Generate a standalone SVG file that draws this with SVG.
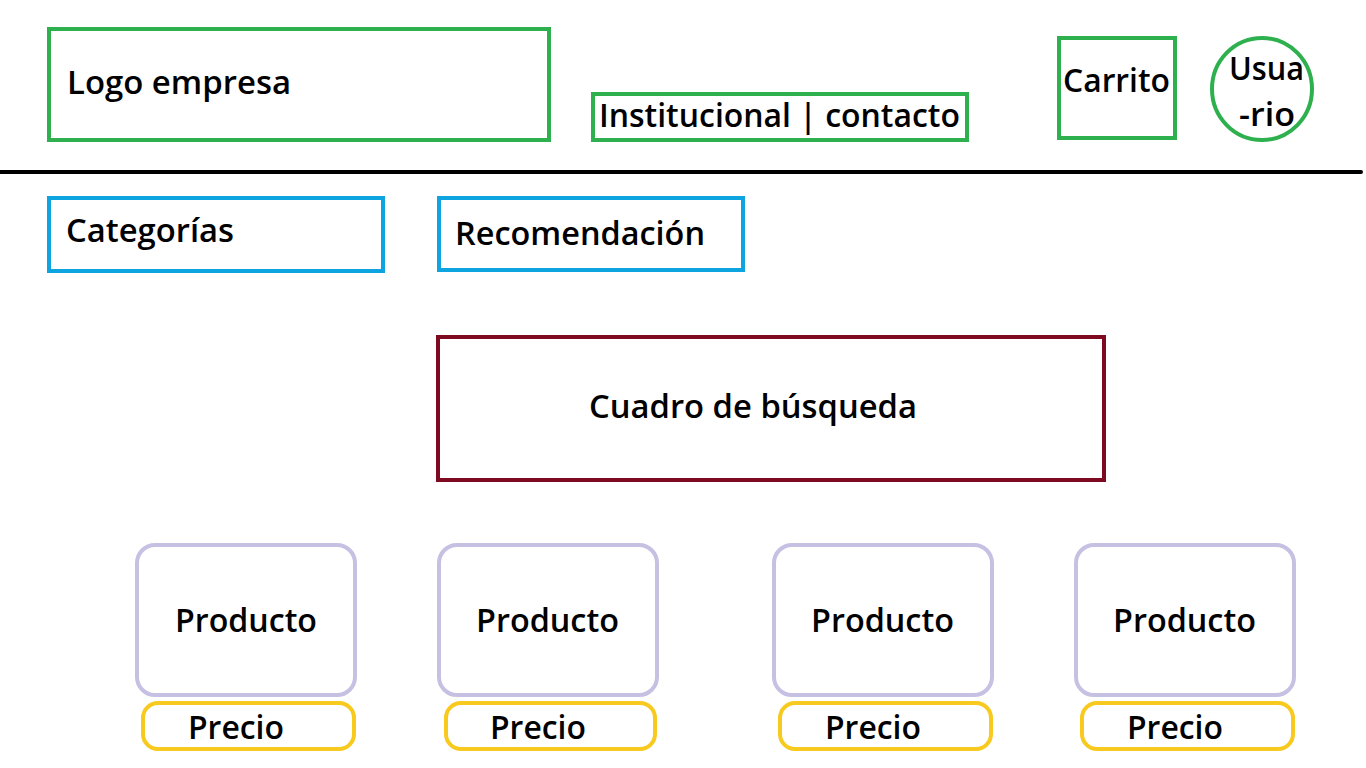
<svg xmlns="http://www.w3.org/2000/svg" width="1366" height="768" viewBox="0 0 1366 768">
<style>
text{font-family:"Open Sans","Noto Sans","Liberation Sans",sans-serif;font-weight:600;fill:#000;font-size:33px}
.g{fill:none;stroke:#2eb04f;stroke-width:4}
.b{fill:none;stroke:#0ea4df;stroke-width:4}
.r{fill:none;stroke:#7d0a20;stroke-width:4}
.p{fill:none;stroke:#c6c1e3;stroke-width:4}
.y{fill:none;stroke:#f8c91f;stroke-width:4}
</style>
<rect width="1366" height="768" fill="#fff"/>
<g id="logo"><rect class="g" x="49" y="29" width="500" height="111"/><text x="67" y="94" textLength="224" lengthAdjust="spacingAndGlyphs">Logo empresa</text></g>
<g id="institucional"><rect class="g" x="593" y="94" width="374" height="46"/><text x="599" y="127" textLength="361" lengthAdjust="spacingAndGlyphs">Institucional | contacto</text></g>
<g id="carrito"><rect class="g" x="1059" y="38" width="116" height="100"/><text x="1063" y="92" textLength="107" lengthAdjust="spacingAndGlyphs">Carrito</text></g>
<g id="usuario"><ellipse class="g" cx="1262" cy="89" rx="50" ry="51"/><text x="1229" y="80" textLength="75" lengthAdjust="spacingAndGlyphs">Usua</text><text x="1239" y="126" textLength="56" lengthAdjust="spacingAndGlyphs">-rio</text></g>
<g id="connectors"><line x1="0" y1="172" x2="1361" y2="172" stroke="#000" stroke-width="4" stroke-linecap="round"/></g>
<g id="categorias"><rect class="b" x="49" y="198" width="334" height="73"/><text x="66" y="242" textLength="168" lengthAdjust="spacingAndGlyphs">Categorías</text></g>
<g id="recomendacion"><rect class="b" x="439" y="198" width="304" height="72"/><text x="455" y="245" textLength="250" lengthAdjust="spacingAndGlyphs">Recomendación</text></g>
<g id="busqueda"><rect class="r" x="438" y="337" width="666" height="143"/><text x="589" y="418" textLength="328" lengthAdjust="spacingAndGlyphs">Cuadro de búsqueda</text></g>
<g id="producto1"><rect class="p" x="137" y="545" width="218" height="150" rx="18"/><text x="175" y="632" textLength="142" lengthAdjust="spacingAndGlyphs">Producto</text></g>
<g id="precio1"><rect class="y" x="143" y="703" width="211" height="46" rx="15"/><text x="188" y="739" textLength="96" lengthAdjust="spacingAndGlyphs">Precio</text></g>
<g id="producto2"><rect class="p" x="439" y="545" width="218" height="150" rx="18"/><text x="476" y="632" textLength="143" lengthAdjust="spacingAndGlyphs">Producto</text></g>
<g id="precio2"><rect class="y" x="446" y="703" width="209" height="46" rx="15"/><text x="490" y="739" textLength="96" lengthAdjust="spacingAndGlyphs">Precio</text></g>
<g id="producto3"><rect class="p" x="774" y="545" width="218" height="150" rx="18"/><text x="811" y="632" textLength="143" lengthAdjust="spacingAndGlyphs">Producto</text></g>
<g id="precio3"><rect class="y" x="780" y="703" width="211" height="46" rx="15"/><text x="825" y="739" textLength="96" lengthAdjust="spacingAndGlyphs">Precio</text></g>
<g id="producto4"><rect class="p" x="1076" y="545" width="218" height="150" rx="18"/><text x="1113" y="632" textLength="143" lengthAdjust="spacingAndGlyphs">Producto</text></g>
<g id="precio4"><rect class="y" x="1082" y="703" width="211" height="46" rx="15"/><text x="1127" y="739" textLength="96" lengthAdjust="spacingAndGlyphs">Precio</text></g>
</svg>
